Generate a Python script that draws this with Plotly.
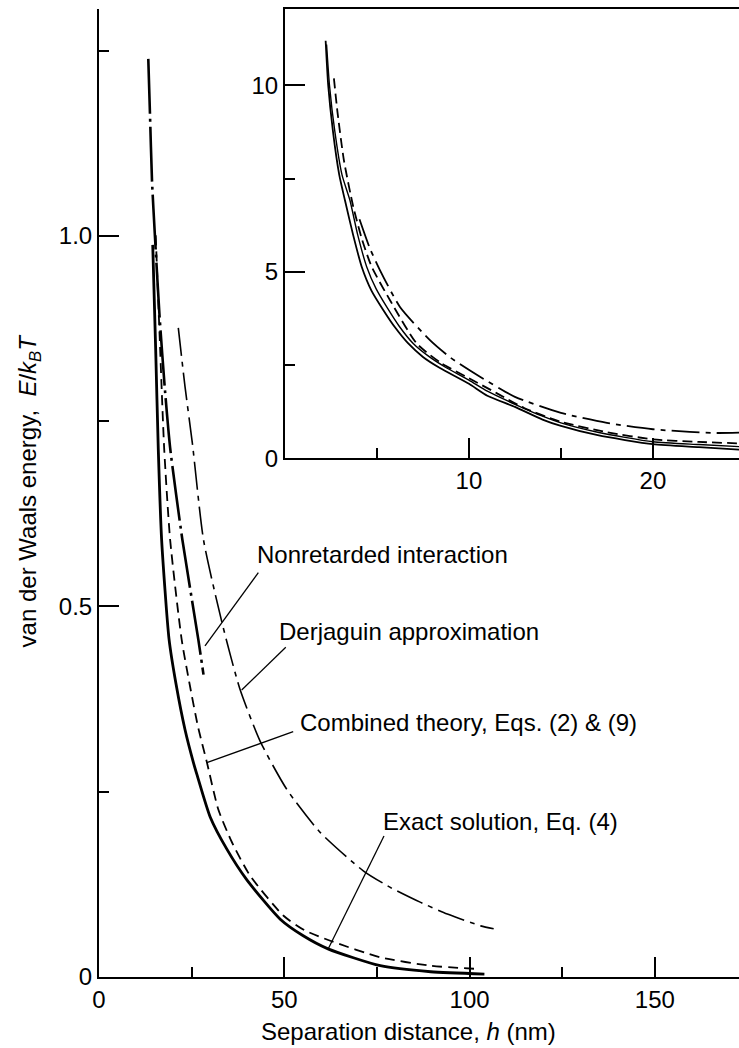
import plotly.graph_objects as go

# ---------------- main panel data (h in nm, E/kBT) ----------------
exact_h = [14.5, 15.3, 16.0, 16.9, 18.9, 20.8, 23.2, 25.5, 26.5, 30.0, 34.5, 39.9, 48.9, 55.0, 61.8, 75.9, 89.5, 104.0]
exact_E = [0.988, 0.846, 0.712, 0.590, 0.456, 0.395, 0.334, 0.289, 0.272, 0.216, 0.1725, 0.131, 0.078, 0.056, 0.038, 0.0152, 0.0071, 0.004]

comb_h = [15.3, 16.4, 17.6, 19.2, 22.3, 24.5, 26.7, 29.1, 32.2, 35.9, 40.8, 49.8, 55.5, 62.4, 75.9, 89.5, 102.4]
comb_E = [1.001, 0.86, 0.712, 0.590, 0.4555, 0.394, 0.338, 0.290, 0.226, 0.1815, 0.1365, 0.0826, 0.063, 0.0489, 0.0265, 0.0152, 0.0108]

nonret_h = [13.3, 13.75, 14.3, 15.1, 16.35, 17.8, 19.2, 22.5, 26.8, 28.2]
nonret_E = [1.239, 1.165, 1.075, 0.999, 0.891, 0.792, 0.714, 0.590, 0.4555, 0.408]

derj_h = [21.4, 23.2, 25.2, 28.2, 33.2, 38.0, 43.5, 50.7, 59.7, 71.4, 78.6, 86.8, 94.0, 103.0, 106.5]
derj_E = [0.876, 0.797, 0.720, 0.590, 0.478, 0.389, 0.318, 0.253, 0.195, 0.143, 0.121, 0.1007, 0.085, 0.069, 0.065]

# ---------------- inset data ----------------
in_exact_h = [2.21, 2.35, 2.6, 2.95, 3.26, 3.7, 4.17, 4.7, 5.34, 6.0, 6.7, 7.5, 8.4, 10, 11, 12.5, 14, 15, 17, 20, 22.5, 24.8]
in_exact_E = [11.2, 10.0, 8.8, 7.6, 6.92, 6.0, 5.14, 4.5, 3.98, 3.5, 3.08, 2.72, 2.43, 2.0, 1.68, 1.38, 1.04, 0.87, 0.62, 0.38, 0.30, 0.23]

in_nonret_h = [2.26, 2.42, 2.7, 3.1, 3.53, 3.95, 4.44, 4.95, 5.53, 6.2, 6.97, 7.8, 8.7, 10, 11, 12.5, 14, 15, 17, 20, 22.5, 24.8]
in_nonret_E = [11.1, 10.0, 8.8, 7.6, 6.92, 6.0, 5.14, 4.55, 4.06, 3.55, 3.08, 2.74, 2.45, 2.1, 1.8, 1.45, 1.13, 0.95, 0.70, 0.445, 0.37, 0.31]

in_comb_h = [2.66, 2.85, 3.2, 3.71, 4.2, 4.71, 5.71, 7.16, 8.5, 10, 11.5, 13, 15, 17.5, 20, 22.5, 24.8]
in_comb_E = [10.19, 9.3, 8.0, 6.75, 5.85, 5.14, 4.24, 3.08, 2.55, 2.15, 1.75, 1.35, 0.98, 0.70, 0.51, 0.44, 0.40]

in_derj_h = [4.05, 4.6, 5.16, 6.25, 7.88, 9.0, 10.6, 12.5, 15, 17.5, 20, 22, 23.5, 24.8]
in_derj_E = [6.41, 5.65, 5.05, 4.06, 3.17, 2.70, 2.19, 1.65, 1.22, 0.95, 0.78, 0.71, 0.68, 0.69]

main_xticks = [0, 50, 100, 150]
main_xminor = [25, 75, 125]
main_yticks = [0, 0.5, 1.0]
main_yticktext = ["0", "0.5", "1.0"]
main_yminor = [0.25, 0.75, 1.25]
inset_xticks = [10, 20]
inset_xminor = [5, 15]
inset_yticks = [0, 5, 10]
inset_yminor = [2.5, 7.5]

FONT = "Liberation Sans, Arial, Helvetica, sans-serif"
BLACK = "black"

fig = go.Figure()

def add(x, y, width, dash, xa="x", ya="y"):
    fig.add_trace(go.Scatter(x=x, y=y, mode="lines", xaxis=xa, yaxis=ya,
                             line=dict(color=BLACK, width=width, dash=dash, shape="spline", smoothing=0.6),
                             hoverinfo="skip", showlegend=False))

# main panel
add(exact_h, exact_E, 2.8, "solid")
add(comb_h, comb_E, 1.8, "10px,6px")
add(nonret_h, nonret_E, 2.6, "55px,5px,3px,5px")
add(derj_h, derj_E, 1.6, "28px,6px,5px,6px")

# inset
add(in_exact_h, in_exact_E, 1.8, "solid", "x2", "y2")
add(in_nonret_h, in_nonret_E, 1.4, "solid", "x2", "y2")
add(in_comb_h, in_comb_E, 1.8, "10px,5px", "x2", "y2")
add(in_derj_h, in_derj_E, 1.8, "28px,6px,5px,6px", "x2", "y2")

axis_common = dict(showline=True, linecolor=BLACK, linewidth=2, ticks="inside", ticklen=20,
                   tickwidth=2, tickcolor=BLACK, showgrid=False, zeroline=False,
                   tickfont=dict(family=FONT, size=24, color=BLACK), fixedrange=True)

fig.update_layout(
    width=739, height=1048,
    margin=dict(l=99, r=0, t=9, b=71, autoexpand=False),
    paper_bgcolor="white", plot_bgcolor="white",
    showlegend=False,
    xaxis=dict(domain=[0, 1], range=[0, 172.7], tickmode="array", tickvals=main_xticks,
               minor=dict(tickmode="array", tickvals=main_xminor, ticks="inside", ticklen=10, tickwidth=2, tickcolor=BLACK),
               anchor="y", **axis_common),
    yaxis=dict(domain=[0, 1], range=[0, 1.3063], tickmode="array", tickvals=main_yticks, ticktext=main_yticktext,
               minor=dict(tickmode="array", tickvals=main_yminor, ticks="inside", ticklen=10, tickwidth=2, tickcolor=BLACK),
               anchor="x", **axis_common),
    xaxis2=dict(domain=[0.2906, 1], range=[0, 24.68], tickmode="array", tickvals=inset_xticks,
                minor=dict(tickmode="array", tickvals=inset_xminor, ticks="inside", ticklen=10, tickwidth=2, tickcolor=BLACK),
                anchor="y2", mirror=True, **axis_common),
    yaxis2=dict(domain=[0.5358, 1], range=[0, 12.05], tickmode="array", tickvals=inset_yticks,
                minor=dict(tickmode="array", tickvals=inset_yminor, ticks="inside", ticklen=10, tickwidth=2, tickcolor=BLACK),
                anchor="x2", **axis_common),
)

# curve labels
labels = [
    ("Nonretarded interaction", 42.1, 0.5695),
    ("Derjaguin approximation", 48.0, 0.4656),
    ("Combined theory, Eqs. (2) &amp; (9)", 53.8, 0.3428),
    ("Exact solution, Eq. (4)", 76.2, 0.2105),
]
for text, lx, ly in labels:
    fig.add_annotation(x=lx, y=ly, xref="x", yref="y", text=text, showarrow=False,
                       xanchor="left", yanchor="middle",
                       font=dict(family=FONT, size=24, color=BLACK))

# leader lines
leaders = [
    (43.0, 0.5456, 28.6, 0.4467),
    (50.4, 0.4449, 38.5, 0.3873),
    (52.4, 0.3310, 29.1, 0.2892),
    (76.9, 0.1903, 61.7, 0.0364),
]
for x0, y0, x1, y1 in leaders:
    fig.add_shape(type="line", xref="x", yref="y", x0=x0, y0=y0, x1=x1, y1=y1,
                  line=dict(color=BLACK, width=1.3))

# axis titles
fig.add_annotation(x=0.4833, y=-0.0558, xref="paper", yref="paper",
                   text="Separation distance, <i>h</i> (nm)", showarrow=False,
                   xanchor="center", yanchor="middle",
                   font=dict(family=FONT, size=24, color=BLACK))
fig.add_annotation(x=-0.1089, y=0.503, xref="paper", yref="paper",
                   text="van der Waals energy,  <i>E</i>/<i>k<sub>B</sub>T</i>", showarrow=False,
                   textangle=-90, xanchor="center", yanchor="middle",
                   font=dict(family=FONT, size=24, color=BLACK))

fig.write_html("out.html",
               config={"displayModeBar": False, "staticPlot": True},
               post_script="document.body.style.margin='0';document.body.style.overflow='hidden';")
